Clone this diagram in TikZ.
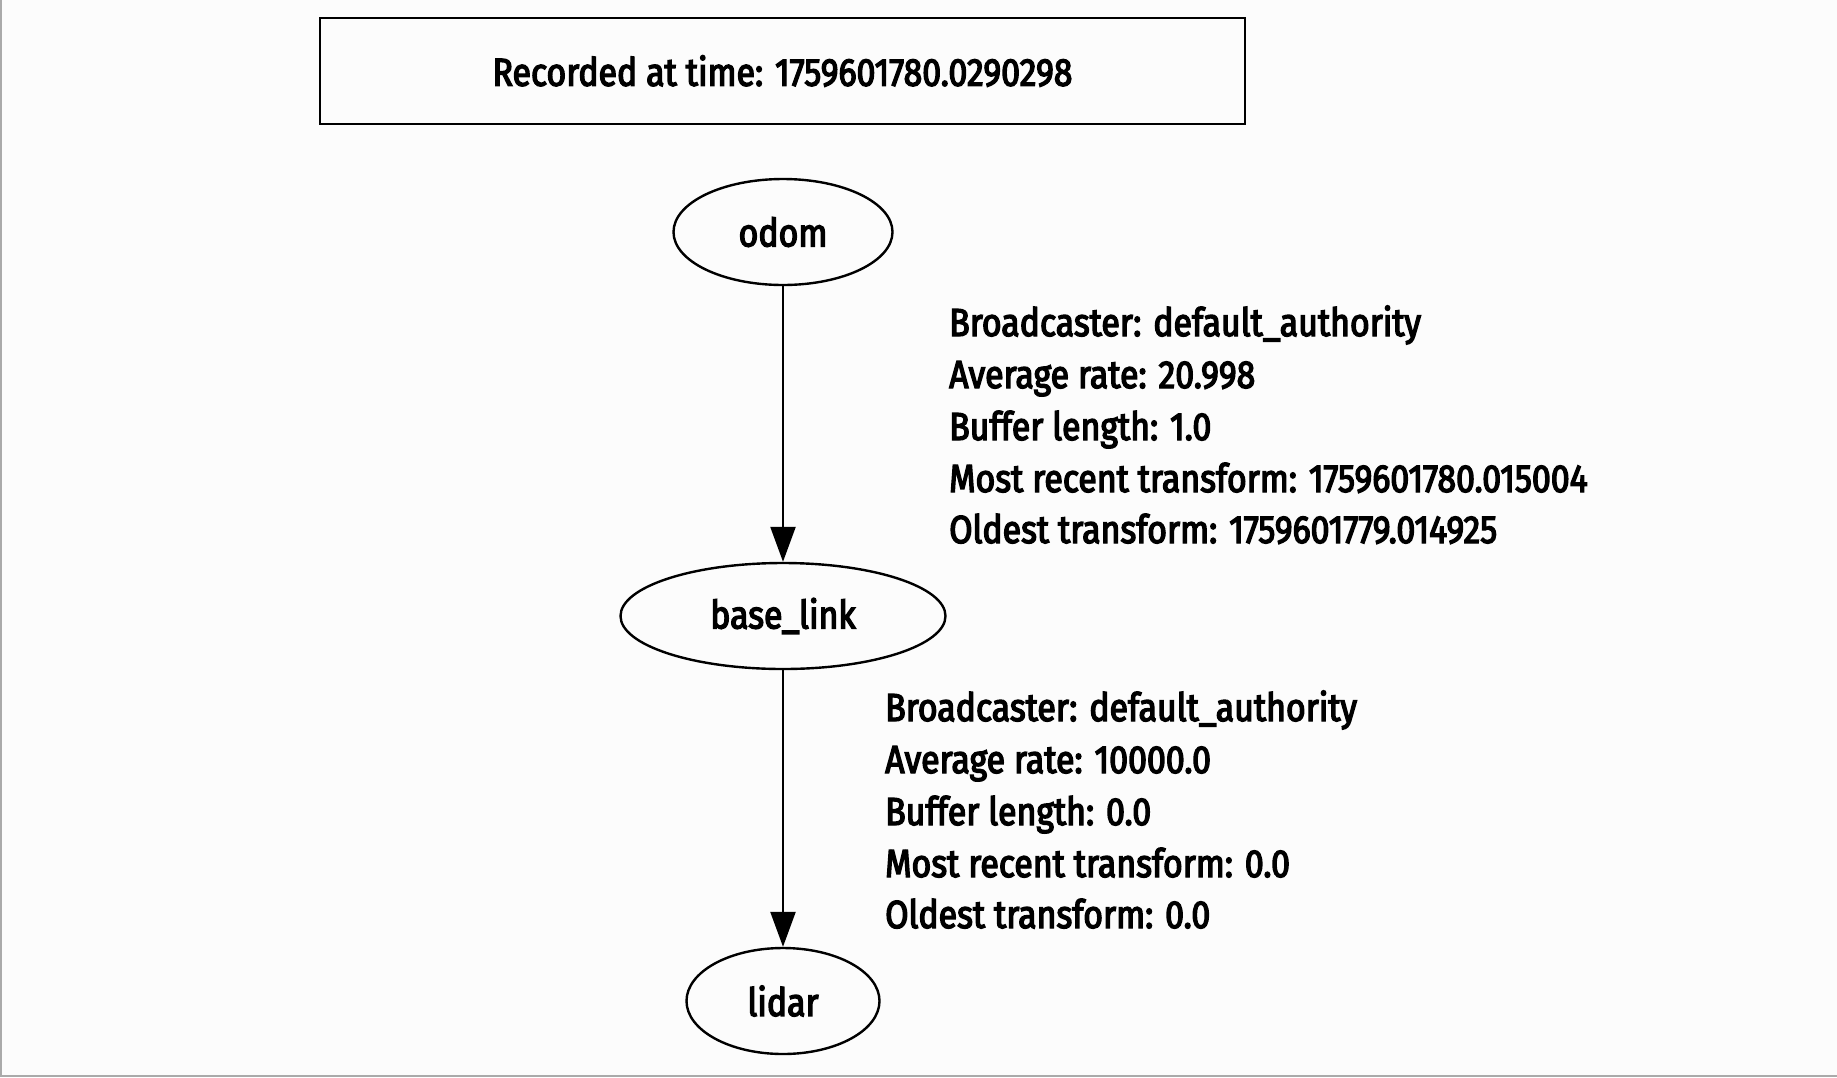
\documentclass[tikz,border=0pt]{standalone}
\usepackage{fontspec}
\setmainfont{Fira Sans}[FakeStretch=0.868, FakeBold=3.5]
\usetikzlibrary{shapes.geometric,arrows.meta}
\definecolor{bgc}{HTML}{FCFCFC}
\definecolor{edgec}{HTML}{AAAAAA}
\begin{document}
\begin{tikzpicture}[x=1pt,y=1pt,
  every node/.style={font=\fontsize{39}{44}\selectfont},
  frame/.style={draw, line width=2.4pt, minimum width=925pt, minimum height=106pt, inner sep=0pt},
  tfnode/.style={draw, ellipse, line width=2.4pt, inner sep=0pt, minimum height=106pt},
  tfedge/.style={line width=2.4pt, -{Triangle[length=35pt,width=25pt]}},
  lbl/.style={anchor=base west, inner sep=0pt}
]
\fill[bgc] (0,0) rectangle (1837,-1077);
\useasboundingbox (0,0) rectangle (1837,-1077);
\draw[edgec, line width=2pt] (1,0) -- (1,-1076) -- (1837,-1076);

\node[frame] (stamp) at (782.5,-71) {Recorded at time: 1759601780.0290298};

\node[tfnode, minimum width=219pt] (odom) at (783,-232) {odom};
\node[tfnode, minimum width=325pt] (base) at (783,-616) {base\_link};
\node[tfnode, minimum width=193pt] (lidar) at (783,-1001) {lidar};

\draw[tfedge] (odom) -- (base);
\draw[tfedge] (base) -- (lidar);

\node[lbl] (a1) at (949,-336) {Broadcaster: default\_authority};
\node[lbl] (a2) at (949,-388) {Average rate: 20.998};
\node[lbl] (a3) at (949,-440) {Buffer length: 1.0};
\node[lbl] (a4) at (949,-492) {Most recent transform: 1759601780.015004};
\node[lbl] (a5) at (949,-543) {Oldest transform: 1759601779.014925};

\node[lbl] (b1) at (885,-721) {Broadcaster: default\_authority};
\node[lbl] (b2) at (885,-773) {Average rate: 10000.0};
\node[lbl] (b3) at (885,-825) {Buffer length: 0.0};
\node[lbl] (b4) at (885,-877) {Most recent transform: 0.0};
\node[lbl] (b5) at (885,-928) {Oldest transform: 0.0};
\end{tikzpicture}
\end{document}
